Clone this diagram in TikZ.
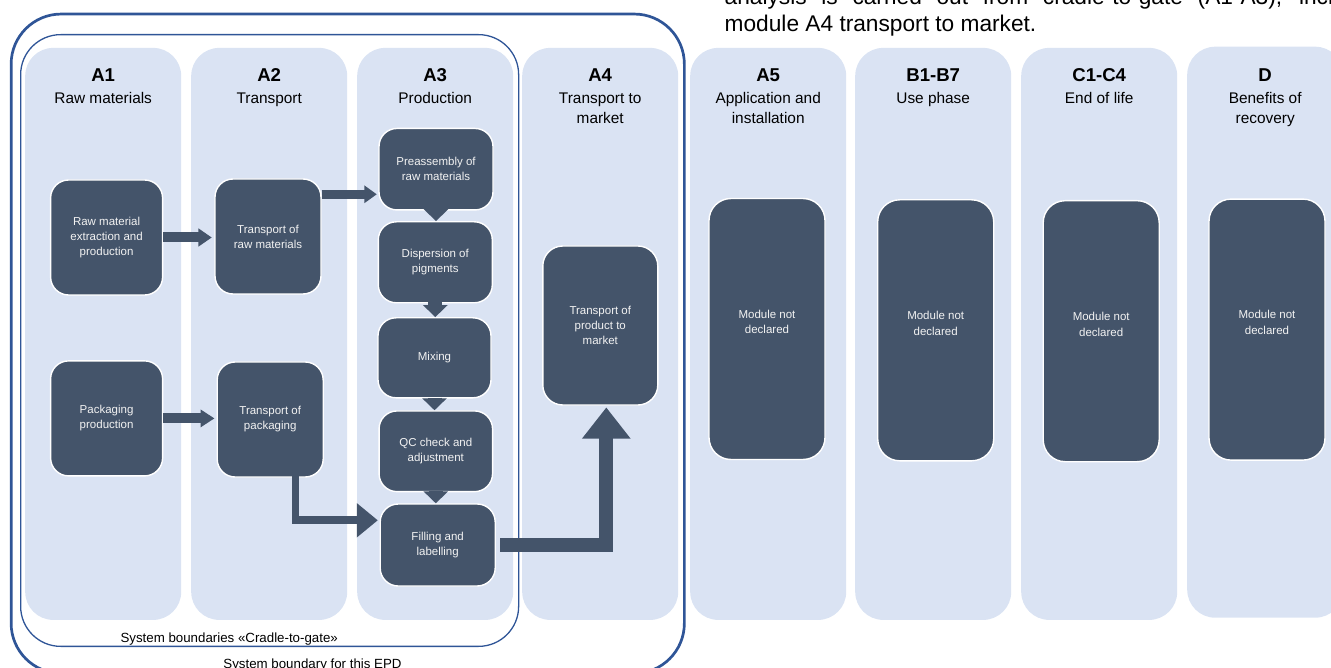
\documentclass[tikz,border=0pt]{standalone}
\usepackage{fontspec}
\setmainfont{Liberation Sans}
\usetikzlibrary{arrows.meta,calc}
\definecolor{colbg}{HTML}{DAE3F3}
\definecolor{boxfill}{HTML}{44546A}
\definecolor{boxtxt}{HTML}{F2F2F2}
\definecolor{bound}{HTML}{2F5597}
\begin{document}
\begin{tikzpicture}[x=1pt,y=-1pt,
  column/.style={fill=colbg, draw=none, rounded corners=28pt, inner sep=0pt,
    minimum width=156pt, minimum height=572pt, anchor=north west},
  hdrbold/.style={font=\fontsize{18.6}{22}\selectfont\bfseries, anchor=base, inner sep=0pt},
  hdrsub/.style={font=\fontsize{15.4}{20}\selectfont, anchor=base, inner sep=0pt, align=center},
  procbox/.style={fill=boxfill, draw=white, line width=1.4pt, rounded corners=18pt,
    inner sep=0pt, text=boxtxt, font=\fontsize{11.5}{15}\selectfont, align=center},
  modbox/.style={procbox, rounded corners=22pt, minimum width=116pt, minimum height=261pt},
  modtxt/.style={text=boxtxt, font=\fontsize{11.5}{15.5}\selectfont, align=center, inner sep=0pt},
  flow/.style={draw=boxfill},
  downflow/.style={flow, line width=14pt, -{Triangle[width=24pt,length=12pt]}},
  boundlabel/.style={font=\fontsize{13.3}{16}\selectfont, anchor=base, inner sep=0pt}
]
\useasboundingbox (0,0) rectangle (1331,668);
\clip (0,0) rectangle (1331,668);

% top text (partly cut off)
\node[anchor=base west, text width=664pt, align=justify, inner sep=0pt,
  font=\fontsize{22.7}{27}\selectfont] (toptext) at (724.5,5)
  {analysis is carried out from cradle-to-gate (A1-A3), including\linebreak module A4 transport to market.};

% columns
\node[column] (c1) at (25,47.7) {};
\node[column] (c2) at (191,47.7) {};
\node[column] (c3) at (357,47.7) {};
\node[column] (c4) at (522,47.7) {};
\node[column] (c5) at (690,47.7) {};
\node[column] (c6) at (855,47.7) {};
\node[column] (c7) at (1021,47.7) {};
\node[column, minimum height=571pt] (c8) at (1187,46.5) {};

% headers (multi-line nodes are placed by the baseline of their last line)
\node[hdrbold] (h1) at ($(c1.north)+(0,34)$) {A1};
\node[hdrsub] (s1) at ($(c1.north)+(0,56.3)$) {Raw materials};
\node[hdrbold] (h2) at ($(c2.north)+(0,34)$) {A2};
\node[hdrsub] (s2) at ($(c2.north)+(0,56.3)$) {Transport};
\node[hdrbold] (h3) at ($(c3.north)+(0,34)$) {A3};
\node[hdrsub] (s3) at ($(c3.north)+(0,56.3)$) {Production};
\node[hdrbold] (h4) at ($(c4.north)+(0,34)$) {A4};
\node[hdrsub] (s4) at ($(c4.north)+(0,76.3)$) {Transport to\\market};
\node[hdrbold] (h5) at ($(c5.north)+(0,34)$) {A5};
\node[hdrsub] (s5) at ($(c5.north)+(0,76.3)$) {Application and\\installation};
\node[hdrbold] (h6) at ($(c6.north)+(0,34)$) {B1-B7};
\node[hdrsub] (s6) at ($(c6.north)+(0,56.3)$) {Use phase};
\node[hdrbold] (h7) at ($(c7.north)+(0,34)$) {C1-C4};
\node[hdrsub] (s7) at ($(c7.north)+(0,56.3)$) {End of life};
\node[hdrbold] (h8) at ($(c8.north)+(0,35.2)$) {D};
\node[hdrsub] (s8) at ($(c8.north)+(0,77.5)$) {Benefits of\\recovery};

% boundaries
\node[draw=bound, line width=2.7pt, rounded corners=50pt, inner sep=0pt,
  minimum width=673.2pt, minimum height=659.3pt, anchor=north west] (outer) at (9.8,12.7) {};
\node[draw=bound, line width=1.3pt, rounded corners=40pt, inner sep=0pt,
  minimum width=498pt, minimum height=611.7pt, anchor=north west] (inner) at (20,34) {};
\node[boundlabel] (innerlabel) at (229.2,642.7) {System boundaries «Cradle-to-gate»};
\node[boundlabel] (outerlabel) at (312.5,668.6) {System boundary for this EPD};

% process boxes
\node[procbox, minimum width=112pt, minimum height=115pt] (rm) at (106.6,237.5) {Raw material\\extraction and\\production};
\node[procbox, minimum width=106pt, minimum height=115pt] (trm) at (268,236.5) {Transport of\\raw materials};
\node[procbox, minimum width=112pt, minimum height=115pt] (pp) at (106.6,418.4) {Packaging\\production};
\node[procbox, minimum width=106pt, minimum height=115pt] (tpk) at (270.2,419.5) {Transport of\\packaging};
\node[procbox, minimum width=114pt, minimum height=81.5pt] (pre) at (436,169.2) {Preassembly of\\raw materials};
\node[procbox, minimum width=114pt, minimum height=81pt] (dis) at (435.3,262.3) {Dispersion of\\pigments};
\node[procbox, minimum width=113pt, minimum height=80pt] (mix) at (434.5,357.8) {Mixing};
\node[procbox, minimum width=113.5pt, minimum height=80.7pt] (qc) at (435.8,451.3) {QC check and\\adjustment};
\node[procbox, minimum width=115pt, minimum height=82pt] (fil) at (437.7,545) {Filling and\\labelling};
\node[procbox, rounded corners=20pt, minimum width=115pt, minimum height=159pt] (tpm) at (600.3,325.5) {Transport of\\product to\\market};

% modules not declared
\node[modbox] (m5) at (767,329) {};
\node[modtxt] (t5) at ($(m5.center)+(0,-7)$) {Module not\\declared};
\node[modbox] (m6) at (935.7,330.3) {};
\node[modtxt] (t6) at ($(m6.center)+(0,-7)$) {Module not\\declared};
\node[modbox] (m7) at (1101.2,331.2) {};
\node[modtxt] (t7) at ($(m7.center)+(0,-7)$) {Module not\\declared};
\node[modbox] (m8) at (1267,329.6) {};
\node[modtxt] (t8) at ($(m8.center)+(0,-7)$) {Module not\\declared};

% connectors
\draw[flow, line width=10pt, -{Triangle[width=17.5pt,length=13.5pt]}, shorten >=2.5pt]
  (rm.east) -- (rm.east -| trm.west);
\draw[flow, line width=10pt, -{Triangle[width=17pt,length=14pt]}, shorten >=2pt]
  (pp.east) -- (pp.east -| tpk.west);
\coordinate (a3) at ([yshift=-16pt]trm.north east);
\draw[flow, line width=8.5pt, -{Triangle[width=17pt,length=12.5pt]}, shorten >=1.5pt]
  (a3) -- (a3 -| pre.west);
\coordinate (a4) at ([xshift=25.3pt,yshift=4pt]tpk.south);
\coordinate (f4) at ([yshift=24.7pt]fil.west);
\draw[flow, line width=7.7pt, -{Triangle[width=33pt,length=21pt]}, shorten >=1.7pt]
  (a4) |- (f4);
\coordinate (f5) at ([xshift=4.5pt]fil.east);
\coordinate (p5) at ([xshift=6pt]tpm.south);
\draw[flow, line width=14pt, -{Triangle[width=46.6pt,length=31.3pt]}, shorten >=1.7pt]
  (f5) -| (p5);
\draw[downflow] ([yshift=1pt]pre.south) -- (pre.south |- dis.north);
\draw[downflow] ([yshift=1pt]dis.south) -- (dis.south |- mix.north);
\draw[downflow] ([yshift=1pt]mix.south) -- (mix.south |- qc.north);
\draw[downflow] ([yshift=1pt]qc.south) -- (qc.south |- fil.north);
\end{tikzpicture}
\end{document}
